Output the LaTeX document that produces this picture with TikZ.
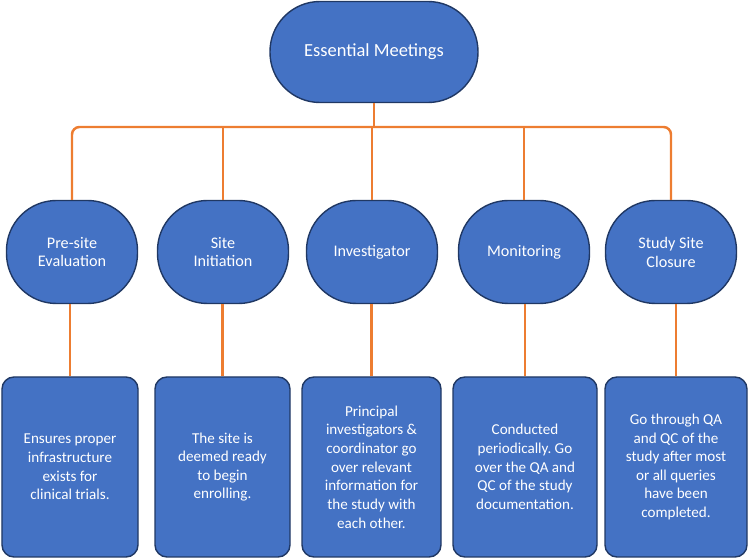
\documentclass[tikz,border=0pt]{standalone}
\usepackage{fontspec}
\setmainfont{Carlito}
\frenchspacing
\usetikzlibrary{positioning, calc}
\definecolor{MeetBlue}   {RGB}{ 68, 114, 196}
\definecolor{MeetBorder} {RGB}{ 32,  56, 100}
\definecolor{LinkOrange} {RGB}{237, 125,  49}
\tikzset{
  % Top title node
  titlenode/.style={
    rectangle, rounded corners=1.0cm,
    fill=MeetBlue, draw=MeetBorder, line width=0.8pt,
    font=\fontsize{10.5}{12}\selectfont, text=white,
    inner sep=0pt, minimum width=4.16cm, minimum height=2.02cm,
    align=center
  },
  % Meeting type node
  meetnode/.style={
    rectangle, rounded corners=1.0cm,
    fill=MeetBlue, draw=MeetBorder, line width=0.8pt,
    font=\fontsize{9.2}{10.8}\selectfont, text=white,
    inner sep=0pt, minimum width=2.62cm, minimum height=2.06cm,
    align=center
  },
  % Description box
  descnode/.style={
    rectangle, rounded corners=0.24cm,
    fill=MeetBlue, draw=MeetBorder, line width=0.8pt,
    font=\fontsize{8.6}{10.6}\selectfont, text=white,
    inner sep=0pt, minimum height=3.6cm,
    align=center
  },
  % Orange connectors
  link/.style={
    line width=1.4pt, color=LinkOrange
  }
}

\begin{document}
\begin{tikzpicture}

  \useasboundingbox (0,0) rectangle (15,-11.18);

  % ── Title ─────────────────────────────────────────────────────────────────
  \node[titlenode] (title) at (7.48,-1.04) {Essential Meetings};

  % ── Meeting types ─────────────────────────────────────────────────────────
  \node[meetnode] (m1) at (1.44,-5.04)  {Pre-site\\Evaluation};
  \node[meetnode] (m2) at (4.46,-5.04)  {Site\\Initiation};
  \node[meetnode] (m3) at (7.44,-5.04)  {Investigator};
  \node[meetnode] (m4) at (10.48,-5.04) {Monitoring};
  \node[meetnode] (m5) at (13.42,-5.04) {Study Site\\Closure};

  % ── Descriptions ──────────────────────────────────────────────────────────
  \node[descnode, minimum width=2.72cm] (d1) at (1.40,-9.34)
        {Ensures proper\\infrastructure\\exists for\\clinical trials.};
  \node[descnode, minimum width=2.70cm] (d2) at (4.45,-9.34)
        {The site is\\deemed ready\\to begin\\enrolling.};
  \node[descnode, minimum width=2.78cm] (d3) at (7.43,-9.34)
        {Principal\\investigators \&\\coordinator go\\over relevant\\information for\\the study with\\each other.};
  \node[descnode, minimum width=2.88cm] (d4) at (10.50,-9.34)
        {Conducted\\periodically. Go\\over the QA and\\QC of the study\\documentation.};
  \node[descnode, minimum width=2.84cm] (d5) at (13.52,-9.34)
        {Go through QA\\and QC of the\\study after most\\or all queries\\have been\\completed.};

  % ── Bus line ──────────────────────────────────────────────────────────────
  \coordinate (bus) at (0,-2.54);
  \draw[link] (title.south) -- (title.south |- bus);
  \draw[link, rounded corners=0.15cm]
        (m1.north) -- (m1.north |- bus) -- (m5.north |- bus) -- (m5.north);
  \draw[link] (m2.north) -- (m2.north |- bus);
  \draw[link] (m3.north) -- (m3.north |- bus);
  \draw[link] (m4.north) -- (m4.north |- bus);

  % ── Meeting to description ────────────────────────────────────────────────
  \draw[link] (m1.south -| d1.north) -- (d1.north);
  \draw[link] (m2.south -| d2.north) -- (d2.north);
  \draw[link] (m3.south -| d3.north) -- (d3.north);
  \draw[link] (m4.south -| d4.north) -- (d4.north);
  \draw[link] (m5.south -| d5.north) -- (d5.north);

\end{tikzpicture}
\end{document}
